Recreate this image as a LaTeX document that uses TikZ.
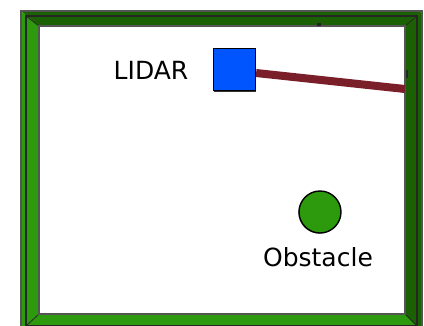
\documentclass[tikz,border=0pt]{standalone}
\usepackage{fontspec}
\setmainfont{DejaVu Sans}
\usetikzlibrary{shadows}
\definecolor{walldark}{HTML}{1B6003}
\definecolor{walllight}{HTML}{2C9A0C}
\definecolor{lidarblue}{HTML}{0055FF}
\definecolor{laser}{HTML}{7A1F2A}
\definecolor{edgegray}{HTML}{555555}
\begin{document}
\begin{tikzpicture}[x=1pt,y=-1pt,
  seam/.style={draw=black!85, line width=0.8pt},
  edge/.style={draw=edgegray, line width=1.2pt},
  lidarbox/.style={draw=black, line width=1.2pt, fill=lidarblue, minimum size=42pt, inner sep=0pt,
     drop shadow={shadow xshift=0.4pt, shadow yshift=-1.6pt, opacity=0.8, fill=black}},
  obstaclecircle/.style={circle, draw=black, line width=1.4pt, fill=walllight, minimum size=42pt, inner sep=0pt,
     drop shadow={shadow xshift=-0.6pt, shadow yshift=-0.6pt, opacity=0.6, fill=black}},
  caption/.style={anchor=base, inner sep=0pt, font=\fontsize{25}{30}\selectfont, text=black},
  laserbeam/.style={draw=laser, line width=8pt},
  tick/.style={fill=black!85}]
\useasboundingbox (0,0) rectangle (424,325);
\clip (0,0) rectangle (424,325);
% wall bands
\fill[walldark] (21,11) -- (422,11) -- (405,26) -- (39,26) -- cycle;
\fill[walldark] (422,11) -- (422,331) -- (405,314) -- (405,26) -- cycle;
\fill[walllight] (21,11) -- (39,26) -- (39,314) -- (21,331) -- cycle;
\fill[walllight] (21,331) -- (39,314) -- (405,314) -- (422,331) -- cycle;
% seams
\draw[seam] (26,16) -- (39,26);
\draw[seam] (417,16) -- (405,26);
\draw[seam] (26,326) -- (39,314);
\draw[seam] (417,326) -- (405,314);
\draw[black!85, line width=1.2pt] (26,16) rectangle (417,326);
\draw[edge] (21,11) rectangle (422,331);
% floor
\fill[white] (39,26) rectangle (405,314);
\draw[edge] (39,26) rectangle (405,314);
% small marks
\fill[tick] (317,22.5) rectangle (321,25.5);
\fill[tick] (405.5,70) rectangle (408,78);
% lidar and beam
\node[lidarbox] (lidar) at (234.5,69.5) {};
\coordinate (laserend) at (405,89);
\draw[laserbeam] ([yshift=-3.5pt]lidar.east) -- (laserend);
\node[caption] (lidartext) at (151,79) {LIDAR};
% obstacle
\node[obstaclecircle] (obstacle) at (320,212) {};
\node[caption] (obstacletext) at (318,266) {Obstacle};
\end{tikzpicture}
\end{document}
